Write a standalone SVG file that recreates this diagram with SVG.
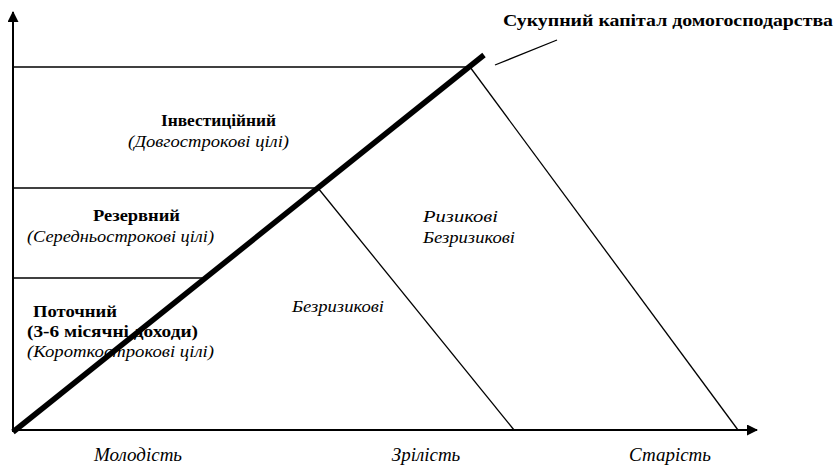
<svg xmlns="http://www.w3.org/2000/svg" width="838" height="465" viewBox="0 0 838 465">
  <style>
    .thin { stroke: #000; stroke-width: 1.3; fill: none; }
    .axis { stroke: #000; stroke-width: 2; fill: none; }
    .b { font-family: "Liberation Serif", serif; font-weight: bold; font-size: 17px; fill: #000; }
    .i { font-family: "Liberation Serif", serif; font-style: italic; font-size: 17px; fill: #000; }
    .age { font-family: "Liberation Serif", serif; font-style: italic; font-size: 19px; fill: #000; }
  </style>
  <defs>
    <marker id="arrow" markerWidth="12" markerHeight="12" refX="10" refY="5.5" orient="auto" markerUnits="userSpaceOnUse">
      <path d="M0,0 L11,5.5 L0,11 Z" fill="#000"/>
    </marker>
  </defs>

  <!-- axes, shelf lines and the total-capital diagonal -->
  <g id="connectors">
    <line class="axis" x1="13" y1="432" x2="13" y2="12" marker-end="url(#arrow)"/>
    <line class="axis" x1="13" y1="430" x2="757" y2="430" marker-end="url(#arrow)"/>
    <line class="thin" x1="13" y1="67" x2="470" y2="67"/>
    <line class="thin" x1="13" y1="188" x2="318" y2="188"/>
    <line class="thin" x1="13" y1="278" x2="205" y2="278"/>
    <line class="thin" x1="318" y1="188" x2="514" y2="430"/>
    <line class="thin" x1="470" y1="67" x2="738" y2="430"/>
    <line class="thin" x1="495" y1="65" x2="557" y2="40"/>
    <line x1="13" y1="432" x2="484" y2="55" stroke="#000" stroke-width="5.5"/>
  </g>

  <g id="total-capital">
    <text class="b" x="503" y="26" font-size="18" textLength="330" lengthAdjust="spacingAndGlyphs">Сукупний капітал домогосподарства</text>
  </g>

  <g id="investment">
    <text class="b" x="161" y="126" textLength="115" lengthAdjust="spacingAndGlyphs">Інвестиційний</text>
    <text class="i" x="128" y="147" textLength="161" lengthAdjust="spacingAndGlyphs">(Довгострокові цілі)</text>
  </g>

  <g id="reserve">
    <text class="b" x="93" y="221" textLength="87" lengthAdjust="spacingAndGlyphs">Резервний</text>
    <text class="i" x="27" y="242" textLength="187" lengthAdjust="spacingAndGlyphs">(Середньострокові цілі)</text>
  </g>

  <g id="current">
    <text class="b" x="33" y="317" textLength="84" lengthAdjust="spacingAndGlyphs">Поточний</text>
    <text class="b" x="27" y="337" textLength="171" lengthAdjust="spacingAndGlyphs">(3-6 місячні доходи)</text>
    <text class="i" x="27" y="357" textLength="187" lengthAdjust="spacingAndGlyphs">(Короткострокові цілі)</text>
  </g>

  <g id="riskless">
    <text class="i" x="292" y="312" textLength="92" lengthAdjust="spacingAndGlyphs">Безризикові</text>
  </g>

  <g id="mixed">
    <text class="i" x="423" y="222" textLength="75" lengthAdjust="spacingAndGlyphs">Ризикові</text>
    <text class="i" x="423" y="243" textLength="92" lengthAdjust="spacingAndGlyphs">Безризикові</text>
  </g>

  <g id="ages">
    <text class="age" x="138" y="461" text-anchor="middle">Молодість</text>
    <text class="age" x="426" y="461" text-anchor="middle">Зрілість</text>
    <text class="age" x="670" y="461" text-anchor="middle">Старість</text>
  </g>
</svg>
